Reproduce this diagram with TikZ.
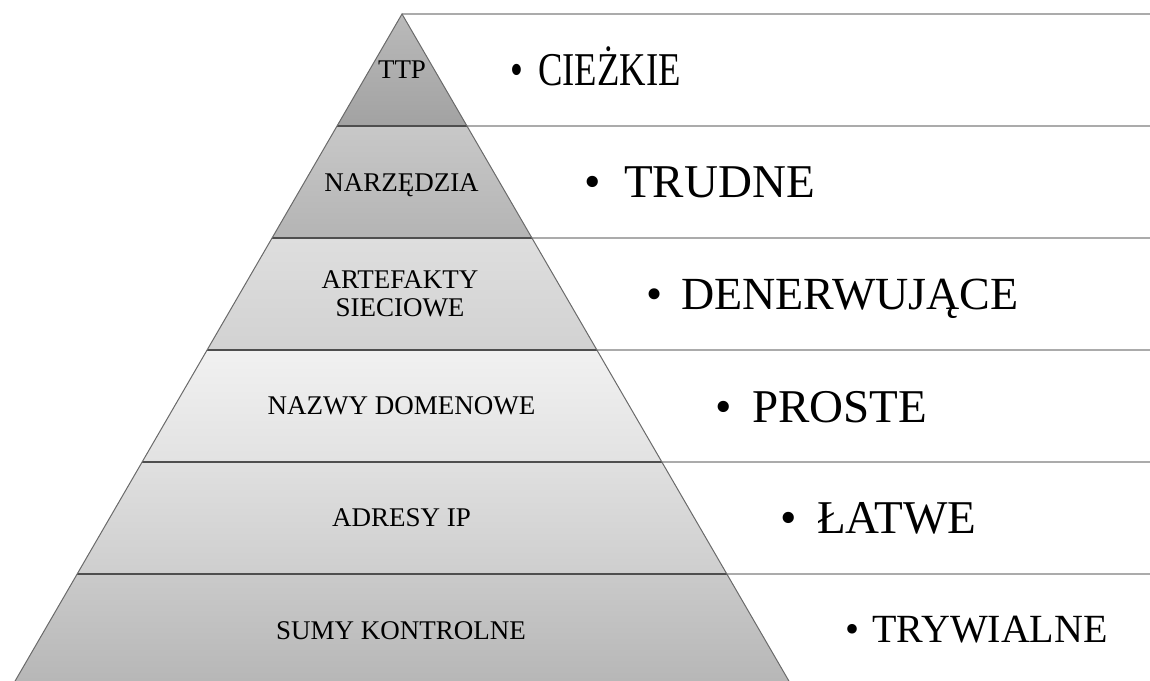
\documentclass[tikz,border=0pt]{standalone}
\usepackage{fontspec}
\setmainfont{Liberation Serif}
\definecolor{edgec}{HTML}{6A6A6A}
\definecolor{sepc}{HTML}{4E4E4E}
\definecolor{rulec}{HTML}{ABABAB}
\newcommand{\bulitem}[2]{\makebox[#1][l]{•}#2}
\tikzset{
  band/.style={draw=none},
  edge/.style={draw=edgec, line width=1pt},
  sep/.style={draw=sepc, line width=1.4pt},
  rowrule/.style={draw=rulec, line width=1.5pt},
  lbl/.style={inner sep=0pt, anchor=base, font=\fontsize{27}{29}\selectfont},
  bigl/.style={inner sep=0pt, anchor=base west, font=\fontsize{47}{50}\selectfont},
}
\begin{document}
\begin{tikzpicture}[x=1pt,y=-1pt]
\useasboundingbox (0,0) rectangle (1150,680);
\clip (0,0) rectangle (1150,680);

% apex and band corners of the pyramid
\coordinate (apex) at (402,14);
\coordinate (l1) at (337.0,126);  \coordinate (r1) at (467.0,126);
\coordinate (l2) at (272.1,238);  \coordinate (r2) at (531.9,238);
\coordinate (l3) at (207.1,350);  \coordinate (r3) at (596.9,350);
\coordinate (l4) at (142.2,462);  \coordinate (r4) at (661.8,462);
\coordinate (l5) at (77.2,574);   \coordinate (r5) at (726.8,574);
\coordinate (l6) at (12.2,686);   \coordinate (r6) at (791.8,686);
\coordinate (e0) at (1150,14);
\coordinate (e1) at (1150,126);
\coordinate (e2) at (1150,238);
\coordinate (e3) at (1150,350);
\coordinate (e4) at (1150,462);
\coordinate (e5) at (1150,574);

% shaded bands
\shade[band, top color={rgb,255:red,186;green,186;blue,186}, bottom color={rgb,255:red,162;green,162;blue,162}]
  (apex) -- (r1) -- (l1) -- cycle;
\shade[band, top color={rgb,255:red,200;green,200;blue,200}, bottom color={rgb,255:red,180;green,180;blue,180}]
  (l1) -- (r1) -- (r2) -- (l2) -- cycle;
\shade[band, top color={rgb,255:red,222;green,222;blue,222}, bottom color={rgb,255:red,210;green,210;blue,210}]
  (l2) -- (r2) -- (r3) -- (l3) -- cycle;
\shade[band, top color={rgb,255:red,241;green,241;blue,241}, bottom color={rgb,255:red,226;green,226;blue,226}]
  (l3) -- (r3) -- (r4) -- (l4) -- cycle;
\shade[band, top color={rgb,255:red,224;green,224;blue,224}, bottom color={rgb,255:red,206;green,206;blue,206}]
  (l4) -- (r4) -- (r5) -- (l5) -- cycle;
\shade[band, top color={rgb,255:red,202;green,202;blue,202}, bottom color={rgb,255:red,182;green,182;blue,182}]
  (l5) -- (r5) -- (r6) -- (l6) -- cycle;

% rules to the right of the pyramid
\draw[rowrule] (apex) -- (e0);
\draw[rowrule] (r1) -- (e1);
\draw[rowrule] (r2) -- (e2);
\draw[rowrule] (r3) -- (e3);
\draw[rowrule] (r4) -- (e4);
\draw[rowrule] (r5) -- (e5);

% band separators and outer edges
\draw[sep] (l1) -- (r1);
\draw[sep] (l2) -- (r2);
\draw[sep] (l3) -- (r3);
\draw[sep] (l4) -- (r4);
\draw[sep] (l5) -- (r5);
\draw[edge] (l6) -- (apex) -- (r6);

% level names
\node[lbl] (ttp)  at (402,78)    {TTP};
\node[lbl] (narz) at (401.5,191) {NARZĘDZIA};
\node[lbl] (art1) at (400,288)   {ARTEFAKTY};
\node[lbl] (art2) at (400,316)   {SIECIOWE};
\node[lbl] (dom)  at (401.5,414) {NAZWY DOMENOWE};
\node[lbl] (ip)   at (401.5,526) {ADRESY IP};
\node[lbl] (hash) at (401,639)   {SUMY KONTROLNE};

% difficulty labels
\node[bigl, xscale=0.78] (d1) at (510,85)  {\bulitem{36pt}{CIEŻKIE}};
\node[bigl] (d2) at (584,197) {\bulitem{40pt}{TRUDNE}};
\node[bigl, font=\fontsize{46}{50}\selectfont] (d3) at (646,309) {\bulitem{35pt}{DENERWUJĄCE}};
\node[bigl] (d4) at (715,422) {\bulitem{37pt}{PROSTE}};
\node[bigl] (d5) at (780,533) {\bulitem{37pt}{ŁATWE}};
\node[bigl, font=\fontsize{40}{44}\selectfont] (d6) at (845,642) {\bulitem{27pt}{TRYWIALNE}};
\end{tikzpicture}
\end{document}
